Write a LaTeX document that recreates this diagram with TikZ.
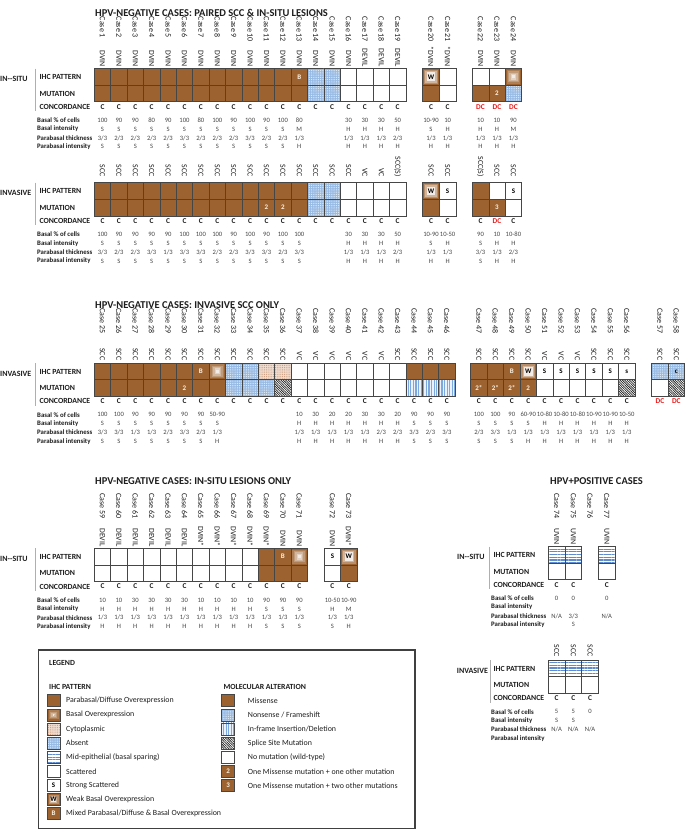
\documentclass[tikz,border=0pt]{standalone}
\usepackage{fontspec}
\setmainfont{Carlito}
\usetikzlibrary{patterns,patterns.meta}
\definecolor{brn}{RGB}{156,99,48}
\definecolor{blu}{RGB}{150,186,228}
\definecolor{cyt}{RGB}{240,222,210}
\definecolor{cytdk}{RGB}{200,150,120}
\definecolor{lnblue}{RGB}{125,168,222}
\definecolor{meblue}{RGB}{95,140,205}
\definecolor{gridc}{RGB}{70,70,70}
\definecolor{sepc}{RGB}{175,175,175}
\definecolor{dcred}{RGB}{235,25,25}
\definecolor{txt}{RGB}{30,30,30}
\definecolor{valc}{RGB}{70,70,70}
\definecolor{labw}{RGB}{250,240,225}
\newcommand\cellw{16.4}
\newcommand\cellh{16.6}
\tikzset{
 gridline/.style={draw=gridc, line width=0.5pt},
 sepline/.style={draw=sepc, line width=0.8pt},
 title/.style={font=\fontsize{10.5}{12}\selectfont\bfseries, anchor=west, inner sep=0, text=txt},
 caselab/.style={font=\fontsize{8}{9}\selectfont, rotate=-90, anchor=west, inner sep=0, text=txt},
 leslab/.style={font=\fontsize{7.8}{9}\selectfont, rotate=-90, anchor=east, inner sep=0, text=txt},
 rowlab/.style={font=\fontsize{7.8}{9}\selectfont\bfseries, anchor=west, inner sep=0, text=txt},
 biglab/.style={font=\fontsize{8}{9}\selectfont\bfseries, anchor=west, inner sep=0, text=txt},
 datalab/.style={font=\fontsize{6.8}{8}\selectfont\bfseries, anchor=west, inner sep=0, text=txt},
 val/.style={font=\fontsize{6.6}{8}\selectfont, inner sep=0, text=valc},
 conc/.style={font=\fontsize{7.4}{8}\selectfont\bfseries, inner sep=0},
 celllab/.style={font=\fontsize{7}{8}\selectfont\bfseries, inner sep=0},
 leg/.style={font=\fontsize{7.9}{9}\selectfont, anchor=west, inner sep=0, text=txt},
 leghead/.style={font=\fontsize{7.8}{9}\selectfont\bfseries, anchor=west, inner sep=0, text=txt},
 legbox/.style={draw=black!75, line width=1.3pt},
}
% cell fills
\newcommand\cellXBr[2]{\fill[brn] (#1,#2) rectangle ++(\cellw,\cellh);}
\newcommand\cellXWh[2]{\fill[white] (#1,#2) rectangle ++(\cellw,\cellh);}
\newcommand\cellXAb[2]{\fill[blu] (#1,#2) rectangle ++(\cellw,\cellh);
  \fill[pattern={Dots[distance=1.8pt,radius=0.5pt]},pattern color=white!80!blu] (#1,#2) rectangle ++(\cellw,\cellh);}
\newcommand\cellXCy[2]{\fill[cyt] (#1,#2) rectangle ++(\cellw,\cellh);
  \fill[pattern={Dots[distance=1.8pt,radius=0.5pt]},pattern color=cytdk] (#1,#2) rectangle ++(\cellw,\cellh);}
\newcommand\cellXIf[2]{\fill[blu!20!white] (#1,#2) rectangle ++(\cellw,\cellh);
  \fill[pattern={Lines[angle=90,distance=2.6pt,line width=1.2pt]},pattern color=lnblue] (#1,#2) rectangle ++(\cellw,\cellh);}
\newcommand\cellXSp[2]{\fill[white] (#1,#2) rectangle ++(\cellw,\cellh);
  \fill[pattern={Lines[angle=-45,distance=1.7pt,line width=0.75pt]},pattern color=black!85] (#1,#2) rectangle ++(\cellw,\cellh);}
\newcommand\cellXMe[2]{\fill[white] (#1,#2) rectangle ++(\cellw,\cellh);
  \fill[pattern={Lines[angle=0,distance=2.7pt,line width=1.1pt]},pattern color=meblue] (#1,#2) rectangle ++(\cellw,\cellh);}
\newcommand\cellXBo[2]{\foreach \gk/\gc in {0/100,1/82,2/64,3/46,4/28,5/12}{%
  \fill[brn!\gc!white] ({#1+\gk*1.35},{#2+\gk*1.35}) rectangle ({#1+\cellw-\gk*1.35},{#2+\cellh-\gk*1.35});}}
\newcommand\cellnote[4]{\node[celllab,text=#4] at ({#1+\cellw/2},{#2+\cellh/2}) {#3};}
\newcommand\cellXBw[2]{\foreach \gk/\gc in {0/100,1/72,2/48}{%
  \fill[brn!\gc!white] ({#1+\gk*1.3},{#2+\gk*1.3}) rectangle ({#1+\cellw-\gk*1.3},{#2+\cellh-\gk*1.3});}
  \fill[brn!12!white] ({#1+3.9},{#2+3.9}) rectangle ({#1+\cellw-3.9},{#2+\cellh-3.9});
  \cellnote{#1}{#2}{W}{black}}
\newcommand\cellXBb[2]{\cellXBr{#1}{#2}\cellnote{#1}{#2}{B}{labw}}
\newcommand\cellXTwo[2]{\cellXBr{#1}{#2}\cellnote{#1}{#2}{2}{labw}}
\newcommand\cellXThree[2]{\cellXBr{#1}{#2}\cellnote{#1}{#2}{3}{labw}}
\newcommand\cellXTs[2]{\cellXBr{#1}{#2}\cellnote{#1}{#2}{2*}{labw}}
\newcommand\cellXSs[2]{\cellXWh{#1}{#2}\cellnote{#1}{#2}{S}{black}}
\newcommand\cellXSl[2]{\cellXWh{#1}{#2}\cellnote{#1}{#2}{s}{black}}
\newcommand\cellXAc[2]{\cellXAb{#1}{#2}\cellnote{#1}{#2}{c}{black}}
\newcommand\mkcell[3]{\csname cellX#1\endcsname{#2}{#3}\draw[gridline] (#2,#3) rectangle ++(\cellw,\cellh);}
% rows
\newcommand\typerow[4]{\renewcommand\cellw{#2}\foreach \t [count=\i from 0] in {#4} {\pgfmathsetmacro\xx{#1+\i*#2}\mkcell{\t}{\xx}{#3}}}
\newcommand\txtrow[6]{\foreach \v [count=\i from 0] in {#6} {\pgfmathsetmacro\xx{#1+\i*#2+#2/2}\node[#4] (#5\i) at (\xx,#3) {\v};}}
\newcommand\caserow[5]{\foreach \n [count=\i from 0] in {#4,...,#5} {\pgfmathsetmacro\xx{#1+\i*#2+#2/2}\node[caselab] (case\n) at (\xx,#3) {Case \n};}}
\newcommand\concrow[5]{\foreach \v/\s [count=\i from 0] in {#5} {\pgfmathsetmacro\xx{#1+\i*#2+#2/2}\node[conc,text=\s] (#4\i) at (\xx,#3) {\v};}}
\newcommand\datarows[8]{\txtrow{#1}{#2}{#3+51.7}{val}{#4p}{#5}\txtrow{#1}{#2}{#3+60.6}{val}{#4i}{#6}%
  \txtrow{#1}{#2}{#3+69.4}{val}{#4t}{#7}\txtrow{#1}{#2}{#3+78.2}{val}{#4q}{#8}}
\newcommand\blocklabels[6]{%
 \node[biglab] (#6big) at (#1,#4+10.5) {#5};
 \draw[sepline] (#2,#4) -- (#2,#4+42.5);
 \node[rowlab] (#6ihc) at (#3,#4+8.5) {IHC PATTERN};
 \node[rowlab] (#6mut) at (#3,#4+25) {MUTATION};
 \node[rowlab] (#6con) at (#3,#4+38.2) {CONCORDANCE};
 \node[datalab] (#6dp) at (#3-2.3,#4+51.7) {Basal \% of cells};
 \node[datalab] (#6di) at (#3-2.3,#4+60.6) {Basal intensity};
 \node[datalab] (#6dt) at (#3-2.3,#4+69.4) {Parabasal thickness};
 \node[datalab] (#6dq) at (#3-2.3,#4+78.2) {Parabasal intensity};}
\newcommand\legitem[6]{\mkcell{#3}{#1}{#2-6}\node[leg] (#5) at (#1+#6,#2) {#4};}

\begin{document}
\begin{tikzpicture}[x=1pt,y=-1pt]
\useasboundingbox (0,0) rectangle (685,830);
\fill[white] (0,0) rectangle (685,830);

%%%%%%%%%%%%%%%% SECTION 1
\node[title] (title1) at (95,13.3) {HPV-NEGATIVE CASES: PAIRED SCC \& IN-SITU LESIONS};
\caserow{94.3}{16.4}{16.7}{1}{19}
\caserow{422.7}{16.6}{16.7}{20}{21}
\caserow{472.3}{16.45}{16.7}{22}{24}
% in-situ
\blocklabels{0}{35}{39.3}{68.5}{IN-{}-SITU}{sa}
\txtrow{94.3}{16.4}{67}{leslab}{la}{DVIN,DVIN,DVIN,DVIN,DVIN,DVIN,DVIN,DVIN,DVIN,DVIN,DVIN,DVIN,DVIN,DVIN,DVIN,DVIN,DEVIL,DEVIL,DEVIL}
\txtrow{422.7}{16.6}{67}{leslab}{lb}{*DVIN,*DVIN}
\txtrow{472.3}{16.45}{67}{leslab}{lc}{DVIN,DVIN,DVIN}
\typerow{94.3}{16.4}{68.5}{Br,Br,Br,Br,Br,Br,Br,Br,Br,Br,Br,Br,Bb,Ab,Ab,Wh,Wh,Wh,Wh}
\typerow{94.3}{16.4}{85.1}{Br,Br,Br,Br,Br,Br,Br,Br,Br,Br,Br,Br,Br,Ab,Ab,Wh,Wh,Wh,Wh}
\typerow{422.7}{16.6}{68.5}{Bw,Wh}
\typerow{422.7}{16.6}{85.1}{Br,Wh}
\typerow{472.3}{16.45}{68.5}{Wh,Wh,Bo}
\typerow{472.3}{16.45}{85.1}{Br,Two,Ab}
\concrow{94.3}{16.4}{106.7}{ca}{C/txt,C/txt,C/txt,C/txt,C/txt,C/txt,C/txt,C/txt,C/txt,C/txt,C/txt,C/txt,C/txt,C/txt,C/txt,C/txt,C/txt,C/txt,C/txt}
\concrow{422.7}{16.6}{106.7}{cb}{C/txt,C/txt}
\concrow{472.3}{16.45}{106.7}{cc}{DC/dcred,DC/dcred,DC/dcred}
\datarows{94.3}{16.4}{68.5}{da}{100,90,90,80,90,100,80,100,90,100,90,100,80,{},{},30,30,30,50}{S,S,S,S,S,S,S,S,S,S,S,S,M,{},{},H,H,H,H}{3/3,2/3,2/3,2/3,2/3,3/3,2/3,2/3,2/3,3/3,2/3,2/3,1/3,{},{},1/3,1/3,1/3,2/3}{S,S,S,S,S,S,S,S,S,S,S,S,H,{},{},H,H,H,H}
\datarows{422.7}{16.6}{68.5}{db}{10-90,10}{S,H}{1/3,1/3}{H,H}
\datarows{472.3}{16.45}{68.5}{dc}{10,10,90}{H,H,M}{1/3,1/3,1/3}{H,H,H}
% invasive
\blocklabels{0}{35}{39.3}{182.7}{INVASIVE}{sb}
\txtrow{94.3}{16.4}{177}{leslab}{lia}{SCC,SCC,SCC,SCC,SCC,SCC,SCC,SCC,SCC,SCC,SCC,SCC,SCC,SCC,SCC,SCC,VC,VC,SCC(S)}
\txtrow{422.7}{16.6}{177}{leslab}{lib}{SCC,SCC}
\txtrow{472.3}{16.45}{177}{leslab}{lic}{SCC(S),SCC,SCC}
\typerow{94.3}{16.4}{182.7}{Br,Br,Br,Br,Br,Br,Br,Br,Br,Br,Br,Br,Br,Ab,Ab,Wh,Wh,Wh,Wh}
\typerow{94.3}{16.4}{199.3}{Br,Br,Br,Br,Br,Br,Br,Br,Br,Br,Two,Two,Br,Ab,Ab,Wh,Wh,Wh,Wh}
\typerow{422.7}{16.6}{182.7}{Bw,Ss}
\typerow{422.7}{16.6}{199.3}{Br,Wh}
\typerow{472.3}{16.45}{182.7}{Br,Wh,Ss}
\typerow{472.3}{16.45}{199.3}{Br,Three,Wh}
\concrow{94.3}{16.4}{220.9}{cia}{C/txt,C/txt,C/txt,C/txt,C/txt,C/txt,C/txt,C/txt,C/txt,C/txt,C/txt,C/txt,C/txt,C/txt,C/txt,C/txt,C/txt,C/txt,C/txt}
\concrow{422.7}{16.6}{220.9}{cib}{C/txt,C/txt}
\concrow{472.3}{16.45}{220.9}{cic}{C/txt,DC/dcred,C/txt}
\datarows{94.3}{16.4}{182.7}{dia}{100,90,90,90,90,100,100,100,90,100,90,100,100,{},{},30,30,30,50}{S,S,S,S,S,S,S,S,S,S,S,S,S,{},{},H,H,H,H}{3/3,2/3,2/3,3/3,1/3,3/3,3/3,2/3,2/3,3/3,3/3,2/3,3/3,{},{},1/3,1/3,1/3,2/3}{S,S,S,S,S,S,S,S,S,S,S,S,S,{},{},H,H,H,H}
\datarows{422.7}{16.6}{182.7}{dib}{10-90,10-50}{S,H}{1/3,1/3}{H,H}
\datarows{472.3}{16.45}{182.7}{dic}{90,10,10-80}{S,H,H}{3/3,1/3,2/3}{S,H,H}

%%%%%%%%%%%%%%%% SECTION 2
\node[title] (title2) at (95,305) {HPV-NEGATIVE CASES: INVASIVE SCC ONLY};
\caserow{94.3}{16.4}{308.3}{25}{46}
\caserow{470.7}{16.43}{308.3}{47}{56}
\caserow{651.7}{16.4}{308.3}{57}{58}
\blocklabels{0}{35}{39.3}{363}{INVASIVE}{sc}
\txtrow{94.3}{16.4}{360.5}{leslab}{l2a}{SCC,SCC,SCC,SCC,SCC,SCC,SCC,SCC,SCC,SCC,SCC,SCC,VC,VC,VC,VC,VC,VC,SCC,SCC,SCC,SCC}
\txtrow{470.7}{16.43}{360.5}{leslab}{l2b}{SCC,SCC,SCC,SCC,VC,VC,VC,SCC,SCC,SCC}
\txtrow{651.7}{16.4}{360.5}{leslab}{l2c}{SCC,SCC}
\typerow{94.3}{16.4}{363}{Br,Br,Br,Br,Br,Br,Bb,Bo,Ab,Ab,Cy,Cy,Wh,Wh,Wh,Wh,Wh,Wh,Wh,Br,Br,Br}
\typerow{94.3}{16.4}{379.6}{Br,Br,Br,Br,Br,Two,Br,Br,Ab,Ab,Ab,Sp,Wh,Wh,Wh,Wh,Wh,Wh,Wh,If,If,If}
\typerow{470.7}{16.43}{363}{Br,Br,Bb,Bw,Ss,Ss,Ss,Ss,Ss,Sl}
\typerow{470.7}{16.43}{379.6}{Ts,Ts,Ts,Two,Wh,Wh,Wh,Wh,Wh,Sp}
\typerow{651.7}{16.4}{363}{Ab,Ac}
\typerow{651.7}{16.4}{379.6}{Wh,Sp}
\concrow{94.3}{16.4}{401.2}{c2a}{C/txt,C/txt,C/txt,C/txt,C/txt,C/txt,C/txt,C/txt,C/txt,C/txt,C/txt,C/txt,C/txt,C/txt,C/txt,C/txt,C/txt,C/txt,C/txt,C/txt,C/txt,C/txt}
\concrow{470.7}{16.43}{401.2}{c2b}{C/txt,C/txt,C/txt,C/txt,C/txt,C/txt,C/txt,C/txt,C/txt,C/txt}
\concrow{651.7}{16.4}{401.2}{c2c}{DC/dcred,DC/dcred}
\datarows{94.3}{16.4}{363}{d2a}{100,100,90,90,90,90,90,50-90,{},{},{},{},10,30,20,20,30,30,20,90,90,90}{S,S,S,S,S,S,S,S,{},{},{},{},H,H,H,H,H,H,H,S,S,S}{3/3,3/3,1/3,1/3,2/3,3/3,2/3,1/3,{},{},{},{},1/3,1/3,1/3,1/3,1/3,2/3,2/3,3/3,2/3,3/3}{S,S,S,S,S,S,S,H,{},{},{},{},H,H,H,H,H,H,H,S,S,S}
\datarows{470.7}{16.43}{363}{d2b}{100,100,90,60-90,10-80,10-80,10-80,10-90,10-90,10-50}{S,S,S,S,H,H,H,H,H,H}{2/3,3/3,1/3,1/3,1/3,1/3,1/3,1/3,1/3,1/3}{S,S,S,H,H,H,H,H,H,H}

%%%%%%%%%%%%%%%% SECTION 3
\node[title] (title3) at (95,481) {HPV-NEGATIVE CASES: IN-SITU LESIONS ONLY};
\caserow{94.3}{16.4}{493}{59}{71}
\caserow{324.3}{16.3}{493}{72}{73}
\blocklabels{0}{35}{39.3}{548.3}{IN-{}-SITU}{sd}
\txtrow{94.3}{16.4}{546.7}{leslab}{l3a}{DEVIL,DEVIL,DEVIL,DEVIL,DEVIL,DEVIL,DVIN*,DVIN*,DVIN*,DVIN*,DVIN*,DVIN,DVIN}
\txtrow{324.3}{16.3}{546.7}{leslab}{l3b}{DVIN,DVIN*}
\typerow{94.3}{16.4}{548.3}{Wh,Wh,Wh,Wh,Wh,Wh,Wh,Wh,Wh,Wh,Br,Bb,Bo}
\typerow{94.3}{16.4}{564.9}{Wh,Wh,Wh,Wh,Wh,Wh,Wh,Wh,Wh,Wh,Br,Br,Br}
\typerow{324.3}{16.3}{548.3}{Ss,Bw}
\typerow{324.3}{16.3}{564.9}{Wh,Br}
\concrow{94.3}{16.4}{586.5}{c3a}{C/txt,C/txt,C/txt,C/txt,C/txt,C/txt,C/txt,C/txt,C/txt,C/txt,C/txt,C/txt,C/txt}
\concrow{324.3}{16.3}{586.5}{c3b}{C/txt,C/txt}
\datarows{94.3}{16.4}{548.3}{d3a}{10,10,30,30,30,30,10,10,10,10,90,90,90}{H,H,H,H,H,H,H,H,H,H,S,S,S}{1/3,1/3,1/3,1/3,1/3,1/3,1/3,1/3,1/3,1/3,1/3,1/3,1/3}{H,H,H,H,H,H,H,H,H,H,S,S,S}
\datarows{324.3}{16.3}{548.3}{d3b}{10-50,10-90}{H,M}{1/3,1/3}{S,H}

%%%%%%%%%%%%%%%% HPV POSITIVE
\node[title] (title4) at (550,481) {HPV+POSITIVE CASES};
\caserow{548.3}{16.7}{493}{74}{77}
\blocklabels{457}{489}{493.3}{546.5}{IN-{}-SITU}{se}
\txtrow{548.3}{16.7}{545}{leslab}{l4a}{UVIN,UVIN}
\txtrow{598.4}{16.7}{545}{leslab}{l4b}{UVIN}
\typerow{548.3}{16.7}{546.5}{Me,Me}
\typerow{548.3}{16.7}{563.1}{Wh,Wh}
\typerow{598.4}{16.7}{546.5}{Me}
\typerow{598.4}{16.7}{563.1}{Wh}
\concrow{548.3}{16.7}{584.7}{c4a}{C/txt,C/txt,{}/txt,C/txt}
\datarows{548.3}{16.7}{546.5}{d4a}{0,0,{},0}{{}}{N/A,3/3,{},N/A}{{},S}
% invasive
\blocklabels{456.7}{490}{493.3}{660}{INVASIVE}{sf}
\txtrow{548.3}{16.7}{657}{leslab}{l5a}{SCC,SCC,SCC}
\typerow{548.3}{16.7}{660}{Me,Me,Me}
\typerow{548.3}{16.7}{676.6}{Wh,Wh,Wh}
\concrow{548.3}{16.7}{698.2}{c5a}{C/txt,C/txt,C/txt}
\datarows{548.3}{16.7}{660}{d5a}{5,5,0}{S,S}{N/A,N/A,N/A}{{}}

%%%%%%%%%%%%%%%% LEGEND
\draw[legbox] (38.5,650) rectangle (415,828.5);
\node[leghead] (legT) at (49,663.3) {LEGEND};
\node[leghead] (legI) at (49,687.3) {IHC PATTERN};
\node[leghead] (legM) at (223.3,687.3) {MOLECULAR ALTERATION};
\renewcommand\cellw{12.7}\renewcommand\cellh{12}
\legitem{47.3}{700.7}{Br}{Parabasal/Diffuse Overexpression}{li1}{18.7}
\legitem{47.3}{714.8}{Bo}{Basal Overexpression}{li2}{18.7}
\legitem{47.3}{728.9}{Cy}{Cytoplasmic}{li3}{18.7}
\legitem{47.3}{743.1}{Ab}{Absent}{li4}{18.7}
\legitem{47.3}{757.2}{Me}{Mid-epithelial (basal sparing)}{li5}{18.7}
\legitem{47.3}{771.3}{Wh}{Scattered}{li6}{18.7}
\legitem{47.3}{785.5}{Ss}{Strong Scattered}{li7}{18.7}
\legitem{47.3}{799.6}{Bw}{Weak Basal Overexpression}{li8}{18.7}
\legitem{47.3}{813.7}{Bb}{Mixed Parabasal/Diffuse \& Basal Overexpression}{li9}{18.7}
\legitem{221.7}{700.7}{Br}{Missense}{lm1}{26}
\legitem{221.7}{714.8}{Ab}{Nonsense / Frameshift}{lm2}{26}
\legitem{221.7}{728.9}{If}{In-frame Insertion/Deletion}{lm3}{26}
\legitem{221.7}{743.1}{Sp}{Splice Site Mutation}{lm4}{26}
\legitem{221.7}{757.2}{Wh}{No mutation (wild-type)}{lm5}{26}
\legitem{221.7}{771.3}{Two}{One Missense mutation + one other mutation}{lm6}{26}
\legitem{221.7}{785.5}{Three}{One Missense mutation + two other mutations}{lm7}{26}
\end{tikzpicture}
\end{document}
